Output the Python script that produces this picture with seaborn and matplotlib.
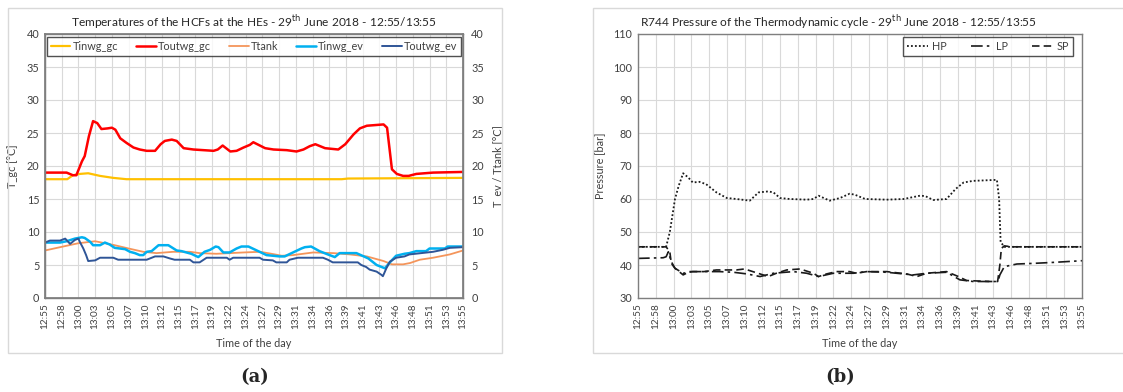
import numpy as np
import pandas as pd
import matplotlib
matplotlib.use("Agg")
import matplotlib.pyplot as plt
from matplotlib.patches import Rectangle
import seaborn as sns

# ---------------- data ----------------
tick_labels = ["12:55", "12:58", "13:00", "13:03", "13:05", "13:07", "13:10", "13:12", "13:15",
               "13:17", "13:19", "13:22", "13:24", "13:27", "13:29", "13:31", "13:34", "13:36",
               "13:39", "13:41", "13:43", "13:46", "13:48", "13:51", "13:53", "13:55"]

# panel (a) - minutes after 12:55
t_tinwg_gc = [0, 3.2, 4.0, 5.0, 6.2, 7.9, 9.8, 11.7, 42.6, 43.5, 60]
v_tinwg_gc = [18.0, 18.0, 18.6, 18.8, 18.9, 18.5, 18.2, 18.0, 18.0, 18.1, 18.2]

t_toutwg_gc = [0, 3.1, 4.0, 4.5, 5.3, 5.7, 6.3, 6.9, 7.5, 8.1, 9.0, 9.6, 10.1, 10.8, 11.7, 12.7,
               13.6, 14.6, 15.8, 16.6, 17.2, 18.2, 18.9, 19.9, 21.3, 24.2, 24.8, 25.5, 26.6, 27.5,
               28.5, 29.4, 29.9, 31.6, 32.8, 34.7, 36.1, 37.1, 38.0, 38.8, 40.2, 42.1, 43.1, 44.3,
               45.2, 46.2, 48.6, 49.1, 49.8, 50.5, 51.4, 52.2, 53.3, 55.7, 60]
v_toutwg_gc = [19.0, 19.0, 18.6, 18.6, 20.7, 21.5, 24.5, 26.8, 26.5, 25.6, 25.7, 25.8, 25.5, 24.2,
               23.5, 22.8, 22.5, 22.3, 22.3, 23.3, 23.8, 24.0, 23.8, 22.7, 22.5, 22.3, 22.5, 23.1,
               22.2, 22.3, 22.8, 23.2, 23.6, 22.7, 22.5, 22.4, 22.2, 22.5, 23.0, 23.3, 22.7, 22.5,
               23.3, 24.8, 25.7, 26.1, 26.3, 25.8, 19.5, 18.8, 18.5, 18.5, 18.8, 19.0, 19.1]

t_ttank = [0, 2.6, 4.8, 7.2, 8.6, 10.0, 12.0, 14.1, 16.0, 18.4, 20.8, 22.2, 24.6, 28.5, 30.9,
           32.5, 34.0, 35.6, 38.5, 41.4, 43.8, 46.2, 48.6, 49.8, 51.4, 52.4, 53.8, 55.7, 58.1, 60]
v_ttank = [7.2, 7.8, 8.3, 8.6, 8.3, 8.0, 7.5, 7.0, 6.8, 7.0, 7.0, 6.8, 6.7, 6.9, 7.0,
           6.7, 6.4, 6.5, 6.9, 6.8, 6.6, 6.3, 5.6, 5.1, 5.1, 5.3, 5.8, 6.1, 6.6, 7.2]

t_tinwg_ev = [0, 2.15, 3.1, 4.3, 5.3, 5.7, 6.5, 6.9, 7.9, 8.6, 9.3, 10.0, 11.5, 12.2, 12.9, 13.6,
              14.1, 14.6, 15.3, 16.3, 17.7, 18.9, 19.6, 21.0, 22.0, 22.9, 23.7, 24.5, 24.9, 25.6,
              26.5, 27.5, 28.2, 29.2, 30.4, 30.8, 31.8, 33.7, 34.4, 35.6, 36.8, 37.3, 38.2, 39.4,
              40.6, 41.6, 42.3, 44.7, 46.4, 47.6, 48.8, 49.5, 50.4, 51.6, 52.3, 53.3, 54.7, 55.2,
              57.4, 57.8, 60]
v_tinwg_ev = [8.4, 8.4, 8.6, 9.0, 9.2, 9.1, 8.5, 8.0, 8.0, 8.4, 8.1, 7.6, 7.4, 7.0, 6.8, 6.5,
              6.5, 7.0, 7.1, 8.0, 8.0, 7.2, 7.1, 6.7, 6.2, 7.0, 7.3, 7.8, 7.7, 6.9,
              6.9, 7.5, 7.8, 7.8, 7.2, 7.0, 6.5, 6.3, 6.3, 6.9, 7.5, 7.7, 7.8, 7.1,
              6.6, 6.2, 6.8, 6.8, 6.0, 5.0, 4.5, 5.4, 6.4, 6.7, 6.8, 7.1, 7.1, 7.5,
              7.5, 7.8, 7.8]

t_toutwg_ev = [0, 0.7, 2.15, 2.9, 3.6, 4.3, 4.8, 5.0, 5.5, 5.9, 6.2, 7.2, 7.9, 9.8, 10.5, 14.6,
               15.8, 17.0, 17.9, 18.6, 20.8, 21.3, 22.2, 23.2, 26.1, 26.5, 27.0, 30.8, 31.3, 32.7,
               33.2, 34.7, 35.1, 36.3, 39.9, 40.6, 41.3, 44.9, 45.4, 46.1, 46.6, 47.6, 48.3, 48.5,
               49.0, 49.5, 50.4, 51.6, 52.3, 54.0, 55.7, 57.1, 58.1, 60]
v_toutwg_ev = [8.4, 8.7, 8.7, 9.0, 8.2, 8.8, 9.0, 8.5, 7.5, 6.5, 5.6, 5.7, 6.1, 6.1, 5.8, 5.8,
               6.3, 6.3, 6.0, 5.8, 5.8, 5.4, 5.4, 6.1, 6.1, 5.8, 6.1, 6.1, 5.8, 5.7,
               5.4, 5.4, 5.8, 6.1, 6.1, 5.8, 5.4, 5.4, 5.0, 4.7, 4.3, 4.0, 3.5, 3.3,
               4.5, 5.5, 6.1, 6.3, 6.6, 6.8, 7.0, 7.3, 7.6, 7.7]

# panel (b)
t_hp = [0, 3.8, 4.3, 5.0, 5.5, 6.1, 6.8, 7.4, 8.3, 9.2, 10.6, 12.0, 13.3, 15.1, 16.3, 17.6, 18.3,
        19.2, 20.5, 22.8, 23.7, 24.4, 25.9, 27.3, 28.6, 29.3, 30.7, 33.6, 35.9, 38.1, 38.8, 39.9,
        41.7, 42.9, 44.0, 45.3, 48.5, 48.8, 49.0, 49.5, 60]
v_hp = [45.5, 45.5, 50.0, 60.0, 64.0, 67.8, 66.5, 65.0, 65.2, 64.5, 62.0, 60.3, 60.0, 59.5, 62.0,
        62.3, 62.0, 60.3, 60.0, 59.8, 60.0, 61.0, 59.5, 60.3, 61.6, 61.3, 60.0, 59.8, 60.0, 61.0,
        60.9, 59.7, 60.0, 63.0, 65.0, 65.5, 65.8, 60.0, 47.0, 45.5, 45.5]

t_lp = [0, 3.4, 3.8, 4.1, 4.5, 5.0, 6.1, 7.4, 9.2, 11.0, 12.9, 14.7, 16.5, 18.3, 21.0, 22.8, 24.4,
        26.4, 29.1, 30.9, 33.6, 37.2, 39.0, 41.7, 43.5, 45.3, 48.3, 48.7, 48.9, 49.5, 51.2, 53.5,
        56.2, 60]
v_lp = [42.0, 42.2, 42.5, 44.0, 41.0, 39.0, 37.5, 38.0, 38.0, 38.0, 37.8, 37.3, 36.5, 37.5, 38.0,
        37.5, 36.5, 37.5, 37.5, 38.0, 37.8, 37.0, 37.5, 37.8, 35.5, 35.0, 35.0, 35.5, 37.0, 39.5,
        40.3, 40.5, 40.8, 41.3]

t_sp = [0, 3.8, 4.3, 4.5, 5.0, 6.1, 7.0, 8.9, 10.6, 13.3, 14.4, 16.9, 17.6, 18.7, 20.1, 21.9, 23.7,
        24.4, 25.5, 26.8, 28.6, 29.5, 30.9, 33.6, 36.3, 37.7, 39.0, 41.7, 43.3, 44.4, 47.6, 48.6,
        48.9, 49.1, 49.5, 50.5, 60]
v_sp = [45.5, 45.5, 44.0, 40.5, 39.0, 37.0, 38.0, 38.0, 38.5, 38.5, 38.8, 37.0, 36.5, 37.5, 38.5,
        38.8, 37.5, 36.5, 37.3, 38.0, 38.0, 37.5, 38.0, 38.0, 37.3, 36.5, 37.5, 38.0, 36.5, 35.3,
        35.0, 35.0, 40.0, 45.0, 45.8, 45.5, 45.5]

# ---------------- style ----------------
sns.set_theme(style="white")
plt.rcParams['font.family'] = ['Lato', 'DejaVu Sans']
TXT = '#404040'
GRID = '#d9d9d9'
SPINE = '#7f7f7f'

fig = plt.figure(figsize=(11.23, 3.92), dpi=100)
W, H = 1123, 392

def fx(px):
    return px / W

def fy(py):
    return 1 - py / H

# chart-area frames
fig.add_artist(Rectangle((fx(8), fy(353)), fx(494), 345 / H, transform=fig.transFigure,
                         fill=False, edgecolor='#d9d9d9', lw=1))
fig.add_artist(Rectangle((fx(593), fy(353)), fx(540), 345 / H, transform=fig.transFigure,
                         fill=False, edgecolor='#d9d9d9', lw=1))

ax1 = fig.add_axes([fx(45), fy(298), fx(463 - 45), (298 - 34) / H])
ax2 = fig.add_axes([fx(638), fy(298), fx(1082 - 638), (298 - 34) / H])

tick_pos = np.linspace(0, 60, len(tick_labels))

def style_axis(ax, ylim, yticks):
    ax.set_xlim(0, 60)
    ax.set_ylim(*ylim)
    ax.set_xticks(tick_pos)
    ax.set_xticklabels(tick_labels, rotation=90, fontsize=7.2, color=TXT)
    ax.set_yticks(yticks)
    ax.tick_params(axis='y', labelsize=7.8, colors=TXT, length=0, pad=4)
    ax.tick_params(axis='x', length=0, pad=4)
    ax.grid(True, color=GRID, lw=0.8)
    ax.set_axisbelow(True)
    for s in ax.spines.values():
        s.set_color(SPINE)
        s.set_linewidth(1.0)

# ---- panel a ----
series_a = [
    ("Tinwg_gc", t_tinwg_gc, v_tinwg_gc, '#FFC000', 1.6),
    ("Toutwg_gc", t_toutwg_gc, v_toutwg_gc, '#FF0000', 1.8),
    ("Ttank", t_ttank, v_ttank, '#F4955B', 1.3),
    ("Tinwg_ev", t_tinwg_ev, v_tinwg_ev, '#00B0F0', 1.8),
    ("Toutwg_ev", t_toutwg_ev, v_toutwg_ev, '#2F5597', 1.4),
]
for name, t, v, c, lw in series_a:
    sns.lineplot(x=t, y=v, ax=ax1, color=c, lw=lw, label=name, sort=False, estimator=None)

style_axis(ax1, (0, 40), np.arange(0, 41, 5))
ax1.set_xlabel("Time of the day", fontsize=7.8, color=TXT, labelpad=6)
ax1.set_ylabel("T_gc [°C]", fontsize=7.8, color=TXT, labelpad=6)
ax1r = ax1.twinx()
ax1r.set_ylim(0, 40)
ax1r.set_yticks(np.arange(0, 41, 5))
ax1r.tick_params(axis='y', labelsize=7.8, colors=TXT, length=0, pad=6)
ax1r.set_ylabel("T_ev / Ttank [°C]", fontsize=7.8, color=TXT, labelpad=6)
for s in ax1r.spines.values():
    s.set_color(SPINE)
leg = ax1.legend(loc='upper left', bbox_to_anchor=(0.005, 0.988, 0.99, 0.0), mode='expand',
                 ncol=5, fontsize=7.8, frameon=True, fancybox=False, handlelength=1.8,
                 handletextpad=0.2, borderpad=0.35, borderaxespad=0)
leg.get_frame().set_edgecolor('#262626')
leg.get_frame().set_linewidth(1.0)
for txt in leg.get_texts():
    txt.set_color(TXT)
fig.text(fx(254), fy(22), "Temperatures of the HCFs at the HEs - 29$^{\\rm th}$ June 2018 - 12:55/13:55",
         ha='center', va='center', fontsize=8.6, color='#262626')

# ---- panel b ----
series_b = [
    ("HP", t_hp, v_hp, (0, (1, 1.2)), 1.3),
    ("LP", t_lp, v_lp, (0, (7, 2.5, 1.5, 2.5)), 1.2),
    ("SP", t_sp, v_sp, (0, (4.5, 2.5)), 1.2),
]
for name, t, v, ls, lw in series_b:
    sns.lineplot(x=t, y=v, ax=ax2, color='#1a1a1a', lw=lw, linestyle=ls, label=name,
                 sort=False, estimator=None)
style_axis(ax2, (30, 110), np.arange(30, 111, 10))
ax2.set_xlabel("Time of the day", fontsize=7.8, color=TXT, labelpad=6)
ax2.set_ylabel("Pressure [bar]", fontsize=7.8, color=TXT, labelpad=6)
leg2 = ax2.legend(loc='upper left', bbox_to_anchor=(fx(903 - 638) * W / 444, 0.988,
                                                   170 / 444, 0.0), mode='expand',
                  ncol=3, fontsize=7.8, frameon=True, fancybox=False, handlelength=2.0,
                  handletextpad=0.3, borderpad=0.35, borderaxespad=0)
leg2.get_frame().set_edgecolor('#262626')
leg2.get_frame().set_linewidth(1.0)
for txt in leg2.get_texts():
    txt.set_color(TXT)
fig.text(fx(838), fy(22), "R744 Pressure of the Thermodynamic cycle - 29$^{\\rm th}$ June 2018 - 12:55/13:55",
         ha='center', va='center', fontsize=8.6, color='#262626')

# sub-figure labels
fig.text(fx(255), fy(377), "(a)", ha='center', va='center', fontsize=13, fontweight='bold',
         family='DejaVu Serif')
fig.text(fx(840), fy(377), "(b)", ha='center', va='center', fontsize=13, fontweight='bold',
         family='DejaVu Serif')

fig.savefig("out.png", dpi=100)
